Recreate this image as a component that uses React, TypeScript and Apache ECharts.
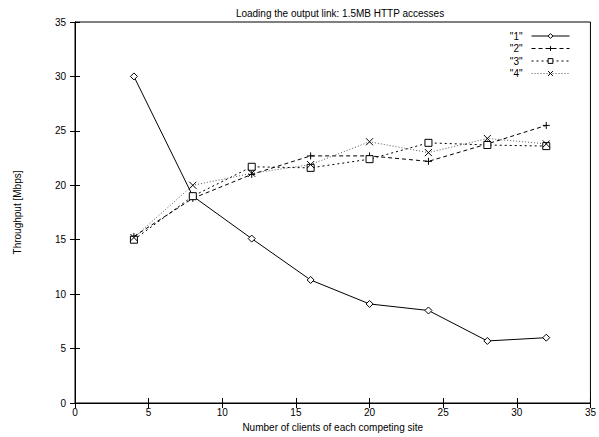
import React, { useEffect, useRef } from "react";
import * as echarts from "echarts";

const xValues = [4, 8, 12, 16, 20, 24, 28, 32];
const series1 = [30.0, 19.0, 15.1, 11.3, 9.1, 8.5, 5.7, 6.0];
const series2 = [15.3, 18.8, 21.0, 22.7, 22.7, 22.2, 23.8, 25.5];
const series3 = [15.0, 19.0, 21.7, 21.6, 22.4, 23.9, 23.7, 23.6];
const series4 = [15.2, 20.0, 21.1, 21.9, 24.0, 23.0, 24.3, 23.8];
const seriesNames = ['"1"', '"2"', '"3"', '"4"'];

const FONT = "Liberation Sans, Arial, Helvetica, sans-serif";

export default function App() {
  const ref = useRef<HTMLDivElement>(null);
  useEffect(() => {
    if (!ref.current) return;
    const chart = echarts.init(ref.current, undefined, { renderer: "svg" });
    const pair = (ys: number[]) => xValues.map((x, i) => [x, ys[i]]);
    const hollow = { color: "#fff", borderColor: "#000", borderWidth: 1 };
    const strokeOnly = { color: "none", borderColor: "#000", borderWidth: 1 };
    const axisCommon = {
      type: "value",
      axisLine: { lineStyle: { color: "#000", width: 1 } },
      axisTick: { inside: true, length: 5, lineStyle: { color: "#000" } },
      splitLine: { show: false },
    };
    chart.setOption({
      animation: false,
      backgroundColor: "#fff",
      textStyle: { fontFamily: FONT },
      title: {
        text: "Loading the output link: 1.5MB HTTP accesses",
        left: 335,
        textAlign: "center",
        top: 3,
        textStyle: { fontSize: 10, fontWeight: "normal", color: "#000", fontFamily: FONT },
      },
      legend: {
        right: 24,
        top: 26,
        orient: "vertical",
        align: "right",
        itemWidth: 38,
        itemHeight: 6,
        itemGap: 2.5,
        lineStyle: { width: 1 },
        itemStyle: { borderWidth: 1 },
        textStyle: { fontSize: 10, color: "#000", fontFamily: FONT, padding: [0, 4, 0, 0] },
        data: seriesNames,
      },
      grid: { left: 75, right: 4, top: 22, bottom: 34, show: true, borderColor: "#000", borderWidth: 1 },
      xAxis: [
        {
          ...axisCommon,
          min: 0,
          max: 35,
          interval: 5,
          name: "Number of clients of each competing site",
          nameLocation: "middle",
          nameGap: 19,
          nameTextStyle: { fontSize: 10, color: "#000", fontFamily: FONT },
          axisLabel: { fontSize: 10, color: "#000", margin: 4, fontFamily: FONT, showMaxLabel: true },
        },
        {
          ...axisCommon,
          position: "top",
          min: 0,
          max: 35,
          interval: 5,
          axisLabel: { show: false },
        },
      ],
      yAxis: [
        {
          ...axisCommon,
          min: 0,
          max: 35,
          interval: 5,
          name: "Throughput [Mbps]",
          nameLocation: "middle",
          nameGap: 53,
          nameTextStyle: { fontSize: 10, color: "#000", fontFamily: FONT },
          axisLabel: { fontSize: 10, color: "#000", margin: 9, fontFamily: FONT },
        },
        {
          ...axisCommon,
          position: "right",
          min: 0,
          max: 35,
          interval: 5,
          axisLabel: { show: false },
        },
      ],
      series: [
        {
          name: seriesNames[0],
          type: "line",
          data: pair(series1),
          symbol: "diamond",
          symbolSize: 7,
          itemStyle: hollow,
          lineStyle: { color: "#000", width: 1, type: "solid" },
        },
        {
          name: seriesNames[1],
          type: "line",
          data: pair(series2),
          symbol: "path://M0,5L10,5M5,0L5,10",
          symbolSize: 7,
          itemStyle: strokeOnly,
          lineStyle: { color: "#000", width: 1, type: [4, 3] },
        },
        {
          name: seriesNames[2],
          type: "line",
          data: pair(series3),
          symbol: "rect",
          symbolSize: 7,
          itemStyle: hollow,
          lineStyle: { color: "#000", width: 1, type: [2, 3] },
        },
        {
          name: seriesNames[3],
          type: "line",
          data: pair(series4),
          symbol: "path://M0,0L10,10M10,0L0,10",
          symbolSize: 7,
          itemStyle: strokeOnly,
          lineStyle: { color: "#555", width: 1, type: [1, 2] },
        },
      ],
    });
    return () => chart.dispose();
  }, []);
  return <div ref={ref} style={{ width: 599, height: 437, position: "absolute", left: 0, top: 0 }} />;
}
